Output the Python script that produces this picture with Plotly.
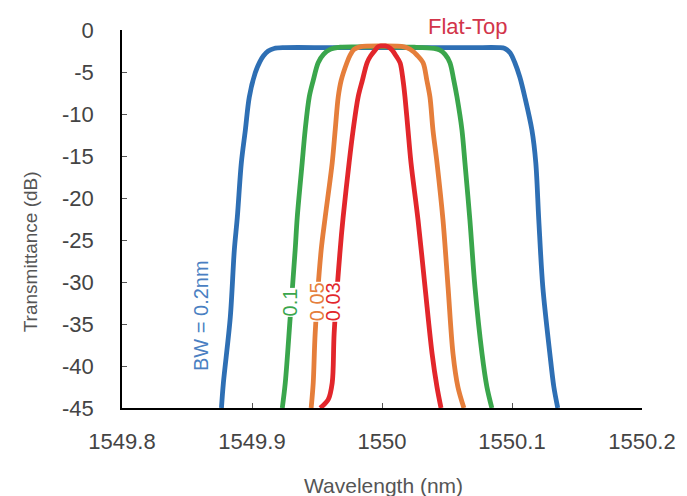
import plotly.graph_objects as go

# ---- data ----
bw02_wl = [1549.8765, 1549.8780, 1549.8833, 1549.8864, 1549.8887, 1549.8918, 1549.8949,
           1549.8979, 1549.9025, 1549.9060, 1549.9087, 1549.9125, 1549.9170, 1549.9250,
           1549.9600, 1550.0000, 1550.0400, 1550.0700, 1550.0900, 1550.0945, 1550.0985,
           1550.1022, 1550.1060, 1550.1099, 1550.1153, 1550.1183, 1550.1206, 1550.1237,
           1550.1291, 1550.1322, 1550.1352]
bw02_db = [-45.0, -42.0, -34.2, -26.2, -22.3, -15.8, -11.9,
           -8.0, -5.1, -3.8, -3.1, -2.5, -2.2, -2.1,
           -2.1, -2.1, -2.1, -2.1, -2.1, -2.2, -2.7,
           -3.9, -5.6, -8.0, -11.9, -15.8, -22.6, -30.6,
           -38.5, -42.5, -45.0]

bw01_wl = [1549.9233, 1549.9256, 1549.9294, 1549.9332, 1549.9348, 1549.9386, 1549.9409,
           1549.9440, 1549.9471, 1549.9509, 1549.9550, 1549.9601, 1549.9680, 1549.9800,
           1550.0000, 1550.0250, 1550.0400, 1550.0446, 1550.0485, 1550.0523, 1550.0550,
           1550.0577, 1550.0615, 1550.0638, 1550.0676, 1550.0715, 1550.0769, 1550.0807,
           1550.0845]
bw01_db = [-45.0, -42.0, -34.2, -26.2, -22.3, -15.8, -11.9,
           -8.0, -6.0, -3.9, -2.9, -2.3, -2.05, -2.0,
           -2.0, -2.05, -2.2, -2.4, -2.9, -3.9, -5.8,
           -8.0, -11.9, -15.8, -22.6, -30.6, -38.5, -42.5,
           -45.0]

bw005_wl = [1549.9455, 1549.9471, 1549.9486, 1549.9532, 1549.9563, 1549.9617, 1549.9640,
            1549.9663, 1549.9686, 1549.9730, 1549.9755, 1549.9785, 1549.9830, 1550.0000,
            1550.0170, 1550.0216, 1550.0270, 1550.0316, 1550.0345, 1550.0369, 1550.0392,
            1550.0423, 1550.0469, 1550.0508, 1550.0546, 1550.0584, 1550.0630]
bw005_db = [-45.0, -42.0, -36.1, -26.2, -22.3, -15.8, -11.9,
            -8.0, -6.0, -3.9, -3.0, -2.3, -2.0, -1.9,
            -2.0, -2.3, -3.0, -3.9, -6.0, -8.0, -11.9,
            -15.8, -22.6, -30.6, -38.5, -42.5, -45.0]

bw003_wl = [1549.9524, 1549.9586, 1549.9617, 1549.9632, 1549.9678, 1549.9701, 1549.9747,
            1549.9778, 1549.9816, 1549.9849, 1549.9885, 1549.9912, 1549.9947, 1549.9970,
            1549.9993, 1550.0024, 1550.0047, 1550.0078, 1550.0109, 1550.0139, 1550.0162,
            1550.0177, 1550.0200, 1550.0223, 1550.0277, 1550.0331, 1550.0385, 1550.0423,
            1550.0454]
bw003_db = [-45.0, -44.0, -42.0, -36.1, -26.2, -22.3, -15.8,
            -11.9, -8.0, -6.0, -3.9, -3.1, -2.4, -2.0,
            -1.9, -1.9, -2.0, -2.4, -3.1, -3.9, -6.0,
            -8.0, -11.9, -15.8, -22.6, -30.6, -38.5, -42.5,
            -45.0]

x_ticks = [1549.8, 1549.9, 1550.0, 1550.1, 1550.2]
x_ticklabels = ["1549.8", "1549.9", "1550", "1550.1", "1550.2"]
y_ticks = [0, -5, -10, -15, -20, -25, -30, -35, -40, -45]
y_ticklabels = ["0", "-5", "-10", "-15", "-20", "-25", "-30", "-35", "-40", "-45"]

series = [
    (bw02_wl, bw02_db, "#2e6fb4"),
    (bw01_wl, bw01_db, "#3aa64c"),
    (bw005_wl, bw005_db, "#e57e3b"),
    (bw003_wl, bw003_db, "#e2262b"),
]

FONT = "Liberation Sans, Arial, sans-serif"
fig = go.Figure()
for wl, db, col in series:
    fig.add_trace(go.Scatter(x=wl, y=db, mode="lines",
                             line=dict(color=col, width=4.8, shape="spline", smoothing=0.9),
                             showlegend=False, hoverinfo="skip"))

axis_common = dict(showgrid=False, zeroline=False, showline=True, linecolor="#000000",
                   linewidth=1.5, ticks="inside", ticklen=5, tickcolor="#555555",
                   tickwidth=1, automargin=False,
                   tickfont=dict(family=FONT, size=22, color="#444444"))

fig.update_xaxes(range=[1549.8, 1550.2], tickvals=x_ticks, ticktext=x_ticklabels,
                 ticklabelstandoff=13, **axis_common)
fig.update_yaxes(range=[-45, 0], tickvals=y_ticks, ticktext=y_ticklabels,
                 ticklabelstandoff=22, **axis_common)

annos = [
    dict(text="Transmittance (dB)", x=-0.1758, y=0.4135, textangle=-90,
         font=dict(family=FONT, size=19, color="#555555")),
    dict(text="Wavelength (nm)", x=0.5024, y=-0.2048,
         font=dict(family=FONT, size=21, color="#555555")),
    dict(text="Flat-Top", x=0.6638, y=1.008,
         font=dict(family=FONT, size=22, color="#d2354a")),
]
for a in annos:
    fig.add_annotation(xref="paper", yref="paper", showarrow=False,
                       xanchor="center", yanchor="middle", **a)

labels = [
    ("BW = 0.2nm", 1549.8603, -34.0, "#4a7fc2", None),
    ("0.1", 1549.9294, -32.4, "#3aa64c", 16),
    ("0.05", 1549.9501, -32.4, "#e57e3b", 16),
    ("0.03", 1549.9624, -32.4, "#e2262b", 16),
]
for txt, xv, yv, col, h in labels:
    kw = dict(bgcolor="#ffffff", height=h) if h else {}
    fig.add_annotation(x=xv, y=yv, text=txt, textangle=-90, showarrow=False,
                       xanchor="center", yanchor="middle",
                       font=dict(family=FONT, size=20, color=col), borderpad=0, **kw)

fig.update_layout(width=687, height=496, paper_bgcolor="#ffffff", plot_bgcolor="#ffffff",
                  margin=dict(l=113.5, r=53, t=22, b=95.5))

fig.write_html("out.html")
